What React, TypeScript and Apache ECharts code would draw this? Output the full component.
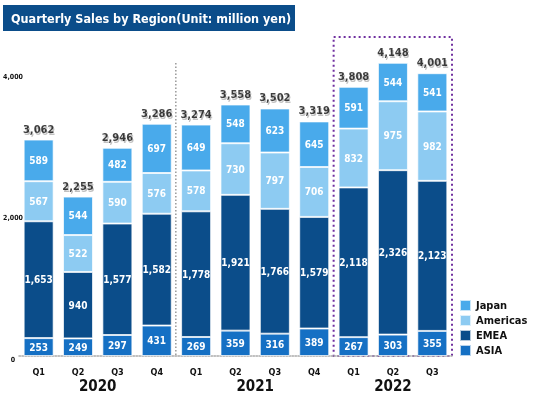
import React, { useEffect, useRef } from "react";
import * as echarts from "echarts";

const quarters = ["Q1", "Q2", "Q3", "Q4", "Q1", "Q2", "Q3", "Q4", "Q1", "Q2", "Q3"];
const years = ["2020", "2021", "2022"];
const yearCenters = [1.5, 5.5, 9];
const asia = [253, 249, 297, 431, 269, 359, 316, 389, 267, 303, 355];
const emea = [1653, 940, 1577, 1582, 1778, 1921, 1766, 1579, 2118, 2326, 2123];
const americas = [567, 522, 590, 576, 578, 730, 797, 706, 832, 975, 982];
const japan = [589, 544, 482, 697, 649, 548, 623, 645, 591, 544, 541];
const totals = [3062, 2255, 2946, 3286, 3274, 3558, 3502, 3319, 3808, 4148, 4001];

const FONT = "DejaVu Sans Condensed";

export default function App() {
  const ref = useRef<HTMLDivElement>(null);
  useEffect(() => {
    const chart = echarts.init(ref.current!, null, { renderer: "svg" });
    const gridLeft = 18;
    const gridRight = 81;
    const gridTop = 45;
    const gridBottom = 38;
    const W = 533;
    const H = 394;
    const gw = W - gridLeft - gridRight;
    const cw = gw / quarters.length;
    const segLabel = {
      show: true,
      color: "#fff",
      fontFamily: FONT,
      fontWeight: "bold" as const,
      fontSize: 10,
      formatter: (p: any) => p.value.toLocaleString("en-US"),
    };
    const mk = (name: string, data: number[], color: string) => ({
      name,
      type: "bar",
      stack: "s",
      barWidth: 30,
      data,
      itemStyle: { color, borderColor: "rgba(255,255,255,0.7)", borderWidth: 1 },
      label: segLabel,
    });
    chart.setOption({
      animation: false,
      grid: { left: gridLeft, right: gridRight, top: gridTop, bottom: gridBottom },
      legend: {
        orient: "vertical",
        left: 454,
        top: 294,
        width: 79,
        itemWidth: 11,
        itemHeight: 11,
        itemGap: 2,
        icon: "rect",
        data: ["Japan", "Americas", "EMEA", "ASIA"],
        textStyle: { fontFamily: FONT, fontWeight: "bold", fontSize: 11, color: "#111", overflow: "none" },
      },
      xAxis: [
        {
          type: "category",
          data: quarters,
          axisLine: { lineStyle: { color: "#aaa", type: "dotted", width: 1.5 } },
          axisTick: { show: false },
          axisLabel: { fontFamily: FONT, fontWeight: "bold", fontSize: 9, color: "#111", margin: 11 },
        },
        {
          type: "value",
          min: -0.5,
          max: 10.5,
          position: "bottom",
          offset: 20,
          axisLine: { show: false },
          axisTick: { show: false },
          splitLine: { show: false },
          axisLabel: {
            customValues: yearCenters,
            formatter: (v: number) => years[yearCenters.indexOf(v)] ?? "",
            fontFamily: FONT,
            fontWeight: "bold",
            fontSize: 15,
            color: "#111",
            margin: 2,
          },
        },
      ],
      yAxis: {
        type: "value",
        min: 0,
        max: 4400,
        interval: 2000,
        axisLine: { show: false },
        axisTick: { show: false },
        splitLine: { show: false },
        axisLabel: {
          showMaxLabel: false,
          fontFamily: FONT,
          fontWeight: "bold",
          fontSize: 7,
          color: "#111",
          align: "center",
          verticalAlign: "top",
          margin: 6,
          formatter: (v: number) => v.toLocaleString("en-US"),
        },
      },
      series: [
        mk("ASIA", asia, "#1570C4"),
        mk("EMEA", emea, "#0B4D8A"),
        mk("Americas", americas, "#8DCBF2"),
        mk("Japan", japan, "#49AAEB"),
        {
          name: "Total",
          type: "scatter",
          data: totals,
          symbolSize: 0,
          label: {
            show: true,
            position: "top",
            distance: 5,
            color: "#111",
            fontFamily: FONT,
            fontWeight: "bold",
            fontSize: 11,
            textShadowColor: "rgba(0,0,0,0.3)",
            textShadowOffsetX: 1,
            textShadowOffsetY: 2,
            textShadowBlur: 1,
            formatter: (p: any) => p.value.toLocaleString("en-US"),
          },
        },
      ],
      graphic: [
        { type: "rect", shape: { x: 3, y: 5, width: 292, height: 26 }, style: { fill: "#0B4D8A" } },
        {
          type: "text",
          x: 11,
          y: 18,
          style: {
            text: "Quarterly Sales by Region(Unit: million yen)",
            fill: "#fff",
            font: `bold 12.5px "${FONT}"`,
            verticalAlign: "middle",
          },
        },
        {
          type: "line",
          shape: { x1: gridLeft + 4 * cw, y1: 63, x2: gridLeft + 4 * cw, y2: H - gridBottom },
          style: { stroke: "#999", lineWidth: 1.5, lineDash: [1.5, 2] },
        },
        {
          type: "rect",
          shape: { x: gridLeft + 8 * cw, y: 37, width: 3 * cw, height: 319 },
          style: { fill: "none", stroke: "#7030A0", lineWidth: 2, lineDash: [2, 3] },
        },
      ],
    });
    return () => chart.dispose();
  }, []);
  return <div ref={ref} style={{ position: "fixed", left: 0, top: 0, width: 533, height: 394 }} />;
}
